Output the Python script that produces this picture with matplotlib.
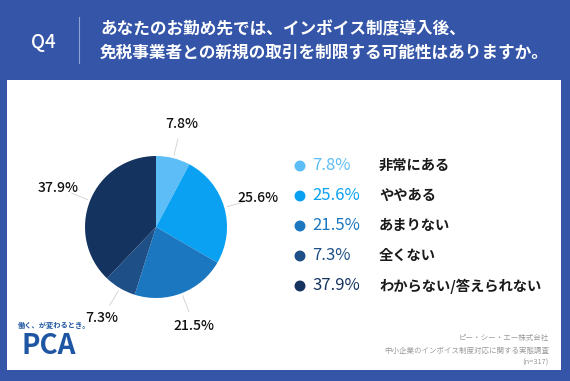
import numpy as np
import matplotlib.pyplot as plt
from matplotlib.patches import Rectangle

# ---------------------------------------------------------------------------
# Data
# ---------------------------------------------------------------------------
CATEGORIES = ["非常にある", "ややある", "あまりない", "全くない", "わからない/答えられない"]
SHARES     = [7.8, 25.6, 21.5, 7.3, 37.9]
COLORS     = ["#5dbdf6", "#0aa1f2", "#1a77c0", "#1e4f86", "#14335f"]

QUESTION_NO = "Q4"
TITLE_LINES = ["あなたのお勤め先では、インボイス制度導入後、",
               "免税事業者との新規の取引を制限する可能性はありますか。"]
TAGLINE     = "働く、が変わるとき。"
LOGO        = "PCA"
SOURCE_LINES = ["ピー・シー・エー株式会社",
                "中小企業のインボイス制度対応に関する実態調査",
                "(n=317)"]

BG_BLUE   = "#3455a8"
LOGO_BLUE = "#1f56a3"

plt.rcParams["font.family"] = ["Noto Sans CJK JP", "DejaVu Sans"]

W, H = 570, 381
fig = plt.figure(figsize=(W / 100, H / 100), dpi=100, facecolor=BG_BLUE)

# pixel-coordinate canvas for panel and texts
bg = fig.add_axes([0, 0, 1, 1])
bg.set_xlim(0, W)
bg.set_ylim(H, 0)
bg.axis("off")
bg.add_patch(Rectangle((7, 80), 554, 290, facecolor="white", edgecolor="none"))

# ----- header -----
bg.text(43, 42, QUESTION_NO, color="white", fontsize=13.5, fontweight="medium",
        ha="center", va="center")
bg.plot([79, 79], [17, 63], color="#8fa3d6", lw=0.8)
for i, line in enumerate(TITLE_LINES):
    bg.text(100, 29 + 24 * i, line, color="white", fontsize=12,
            fontweight="bold", ha="left", va="center")

# ----- pie -----
cx, cy, r = 156, 227, 71
pax = fig.add_axes([(cx - r) / W, 1 - (cy + r) / H, 2 * r / W, 2 * r / H])
wedges, _ = pax.pie(SHARES, colors=COLORS, startangle=90, counterclock=False,
                    wedgeprops=dict(linewidth=0))
pax.set_xlim(-1, 1)
pax.set_ylim(-1, 1)
for w, v in zip(wedges, SHARES):
    ang = np.deg2rad((w.theta1 + w.theta2) / 2)
    ca, sa = np.cos(ang), np.sin(ang)
    pax.plot([1.04 * ca, 1.28 * ca], [1.04 * sa, 1.28 * sa],
             color="#cfcfcf", lw=0.6, clip_on=False)
    pax.text(1.49 * ca, 1.49 * sa, f"{v}%", ha="center", va="center",
             fontsize=10, fontweight="medium", color="#111111")

# ----- legend -----
for i, (cat, v, c) in enumerate(zip(CATEGORIES, SHARES, COLORS)):
    y = 166 + 30 * i
    bg.scatter([300], [y], s=62, color=c, edgecolors="none")
    bg.text(312, y, f"{v}%", color=c, fontsize=12, ha="left", va="center")
    bg.text(379, y, cat, color="#1a1a1a", fontsize=10.3, fontweight="bold",
            ha="left", va="center")

# ----- footer -----
bg.text(18, 325, TAGLINE, color=LOGO_BLUE, fontsize=5.2, fontweight="bold",
        ha="left", va="center")
bg.text(22, 346, LOGO, color=LOGO_BLUE, fontsize=20, fontweight="bold",
        ha="left", va="center")
for i, line in enumerate(SOURCE_LINES):
    bg.text(549, 338 + 12.5 * i, line, color="#9a9a9a", fontsize=5.4,
            ha="right", va="center")

fig.savefig("out.png", dpi=100, facecolor=BG_BLUE)
